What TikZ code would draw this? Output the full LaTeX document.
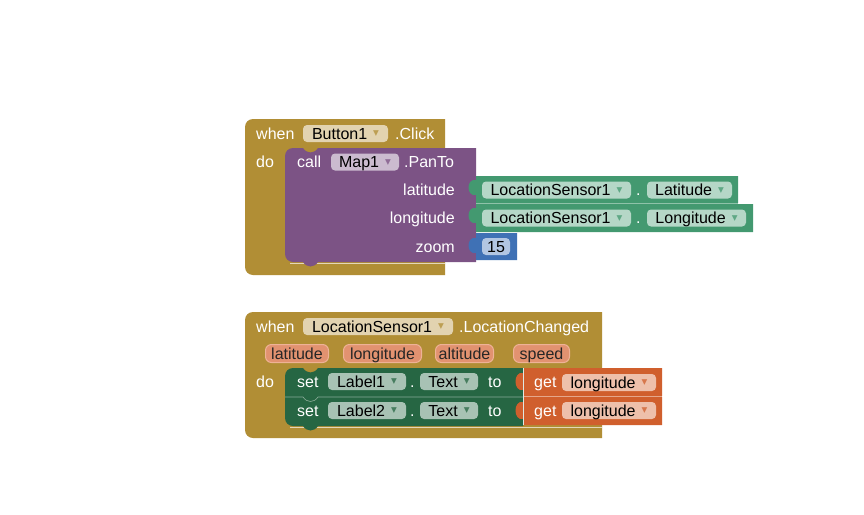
\documentclass[tikz,border=0pt]{standalone}
\usepackage{fontspec}
\setmainfont{Liberation Sans}
\newfontfamily\dvsym{DejaVu Sans}
\definecolor{evt}{RGB}{177,142,53}
\definecolor{evtf}{RGB}{226,211,176}
\definecolor{meth}{RGB}{124,83,133}
\definecolor{methf}{RGB}{203,187,207}
\definecolor{getc}{RGB}{67,153,112}
\definecolor{getf}{RGB}{181,215,199}
\definecolor{setc}{RGB}{38,102,67}
\definecolor{setf}{RGB}{168,194,180}
\definecolor{mathc}{RGB}{63,113,181}
\definecolor{mathf}{RGB}{178,198,226}
\definecolor{varc}{RGB}{208,95,45}
\definecolor{varf}{RGB}{238,192,171}
\definecolor{pillf}{RGB}{226,146,112}
\definecolor{pilld}{RGB}{238,178,150}
\newcommand\dd[1]{\hspace{6pt}\raisebox{3.5pt}{\dvsym\fontsize{7.5}{7.5}\selectfont\textcolor{#1}{\symbol{"25BC}}}}
\begin{document}
\begin{tikzpicture}[x=1pt,y=-1pt,
  lbl/.style={text=white,inner sep=0pt,font=\fontsize{16}{16}\selectfont},
  fld/.style={fill=#1,rounded corners=4pt,inner xsep=0pt,inner ysep=0pt,
    text height=11pt,text depth=0pt,minimum height=17pt,
    font=\fontsize{16}{16}\selectfont,text=black},
  pill/.style={fill=pillf,draw=pilld,line width=1pt,rounded corners=6pt,
    inner xsep=0pt,inner ysep=0pt,text height=11pt,text depth=0pt,
    minimum height=18pt,font=\fontsize{16}{16}\selectfont,text=black!85}]
\useasboundingbox (0,0) rectangle (864,514);
\fill[white] (0,0) rectangle (864,514);

% ---------- block 1 ----------
\fill[evt] (445,119) -- (253,119) arc[start angle=90,end angle=180,radius=8pt]
  -- (245,267) arc[start angle=180,end angle=270,radius=8pt] -- (445,275) -- cycle;
\draw[evt!35!white,line width=1pt] (290,263) -- (445,263);
\fill[meth] (476,148) -- (318,148) .. controls (314,154) and (307,154) .. (303,148)
  -- (293,148) arc[start angle=90,end angle=180,radius=8pt]
  -- (285,254) arc[start angle=180,end angle=270,radius=8pt]
  -- (303,262) .. controls (307,268) and (314,268) .. (318,262) -- (476,262) -- cycle;
\fill[getc] (476,176) -- (738,176) -- (738,203) -- (476,203) -- (476,195)
  .. controls (466,197) and (466,178) .. (476,180) -- cycle;
\fill[getc] (476,204) -- (753,204) -- (753,232) -- (476,232) -- (476,223)
  .. controls (466,225) and (466,206) .. (476,208) -- cycle;
\draw[getc!60!white,line width=0.6pt] (476,203.5) -- (738,203.5);
\fill[mathc] (476,233) -- (517,233) -- (517,260) -- (476,260) -- (476,253)
  .. controls (466,255) and (466,236) .. (476,238) -- cycle;

\node[lbl,anchor=base west] (b1when) at (256,139) {when};
\node[fld=evtf,minimum width=85pt] (b1btn) at (345.5,133.5) {Button1\dd{evt!85!white}};
\node[lbl,anchor=base west] (b1click) at (395,139) {.Click};
\node[lbl,anchor=base west] (b1do) at (256,167) {do};
\node[lbl,anchor=base west] (b1call) at (297,167) {call};
\node[fld=methf,minimum width=68pt] (b1map) at (365,162) {Map1\dd{meth!85!white}};
\node[lbl,anchor=base west] (b1panto) at (404,167) {.PanTo};
\node[lbl,anchor=base east] (b1lat) at (455,195) {latitude};
\node[lbl,anchor=base east] (b1lon) at (455,223.5) {longitude};
\node[lbl,anchor=base east] (b1zoom) at (455,252) {zoom};

\node[fld=getf,minimum width=149pt] (g1sensor) at (556.5,190) {LocationSensor1\dd{getc!85!white}};
\node[lbl,anchor=base west] (g1dot) at (636,195.5) {.};
\node[fld=getf,minimum width=85pt] (g1lat) at (689.5,190) {Latitude\dd{getc!85!white}};
\node[fld=getf,minimum width=149pt] (g2sensor) at (556.5,218) {LocationSensor1\dd{getc!85!white}};
\node[lbl,anchor=base west] (g2dot) at (636,223.5) {.};
\node[fld=getf,minimum width=99pt] (g2lon) at (696.5,218) {Longitude\dd{getc!85!white}};
\node[fld=mathf,minimum width=28pt] (num15) at (496,246.5) {15};

% ---------- block 2 ----------
\fill[evt] (602,312) -- (253,312) arc[start angle=90,end angle=180,radius=8pt]
  -- (245,430) arc[start angle=180,end angle=270,radius=8pt] -- (602,438) -- cycle;
\draw[evt!35!white,line width=1pt] (290,427) -- (602,427);
\fill[setc] (523,397) -- (318,397) .. controls (314,403) and (307,403) .. (303,397)
  -- (285,397) -- (285,418) arc[start angle=180,end angle=270,radius=8pt]
  -- (303,426) .. controls (307,432) and (314,432) .. (318,426) -- (523,426) -- cycle;
\fill[setc] (523,368) -- (318,368) .. controls (314,374) and (307,374) .. (303,368)
  -- (293,368) arc[start angle=90,end angle=180,radius=8pt]
  -- (285,397) -- (303,397) .. controls (307,403) and (314,403) .. (318,397) -- (523,397) -- cycle;
\draw[setc!55!white,line width=0.6pt] (285,397) -- (303,397)
  .. controls (307,403) and (314,403) .. (318,397) -- (523,397);
\fill[varc] (523,368) -- (662,368) -- (662,396) -- (523,396) -- (523,390)
  .. controls (513,392) and (513,371) .. (523,373) -- cycle;
\fill[varc] (523,397) -- (662,397) -- (662,425) -- (523,425) -- (523,419)
  .. controls (513,421) and (513,400) .. (523,402) -- cycle;
\draw[varc!55!white,line width=0.6pt] (523,396.5) -- (662,396.5);
\draw[white!85!setc,line width=0.6pt] (523.5,368) -- (523.5,425);

\node[lbl,anchor=base west] (b2when) at (256,332) {when};
\node[fld=evtf,minimum width=150pt] (b2sensor) at (378,326.5) {LocationSensor1\dd{evt!85!white}};
\node[lbl,anchor=base west] (b2changed) at (459,332) {.LocationChanged};
\node[pill,minimum width=63pt] (p1) at (297,353.5) {latitude};
\node[pill,minimum width=78pt] (p2) at (382.5,353.5) {longitude};
\node[pill,minimum width=58pt] (p3) at (464.5,353.5) {altitude};
\node[pill,minimum width=56pt] (p4) at (541.5,353.5) {speed};
\node[lbl,anchor=base west] (b2do) at (256,387) {do};

\node[lbl,anchor=base west] (s1set) at (297,387.5) {set};
\node[fld=setf,minimum width=78pt] (s1lbl) at (367,381.5) {Label1\dd{setc!85!white}};
\node[lbl,anchor=base west] (s1dot) at (410,387.5) {.};
\node[fld=setf,minimum width=58pt] (s1text) at (449,381.5) {Text\dd{setc!85!white}};
\node[lbl,anchor=base west] (s1to) at (488,387.5) {to};
\node[lbl,anchor=base west] (v1get) at (534,387.5) {get};
\node[fld=varf,minimum width=94pt] (v1lon) at (609,382.5) {longitude\dd{varc!85!white}};

\node[lbl,anchor=base west] (s2set) at (297,416.5) {set};
\node[fld=setf,minimum width=78pt] (s2lbl) at (367,410.5) {Label2\dd{setc!85!white}};
\node[lbl,anchor=base west] (s2dot) at (410,416.5) {.};
\node[fld=setf,minimum width=58pt] (s2text) at (449,410.5) {Text\dd{setc!85!white}};
\node[lbl,anchor=base west] (s2to) at (488,416.5) {to};
\node[lbl,anchor=base west] (v2get) at (534,416.5) {get};
\node[fld=varf,minimum width=94pt] (v2lon) at (609,410.5) {longitude\dd{varc!85!white}};
\end{tikzpicture}
\end{document}
